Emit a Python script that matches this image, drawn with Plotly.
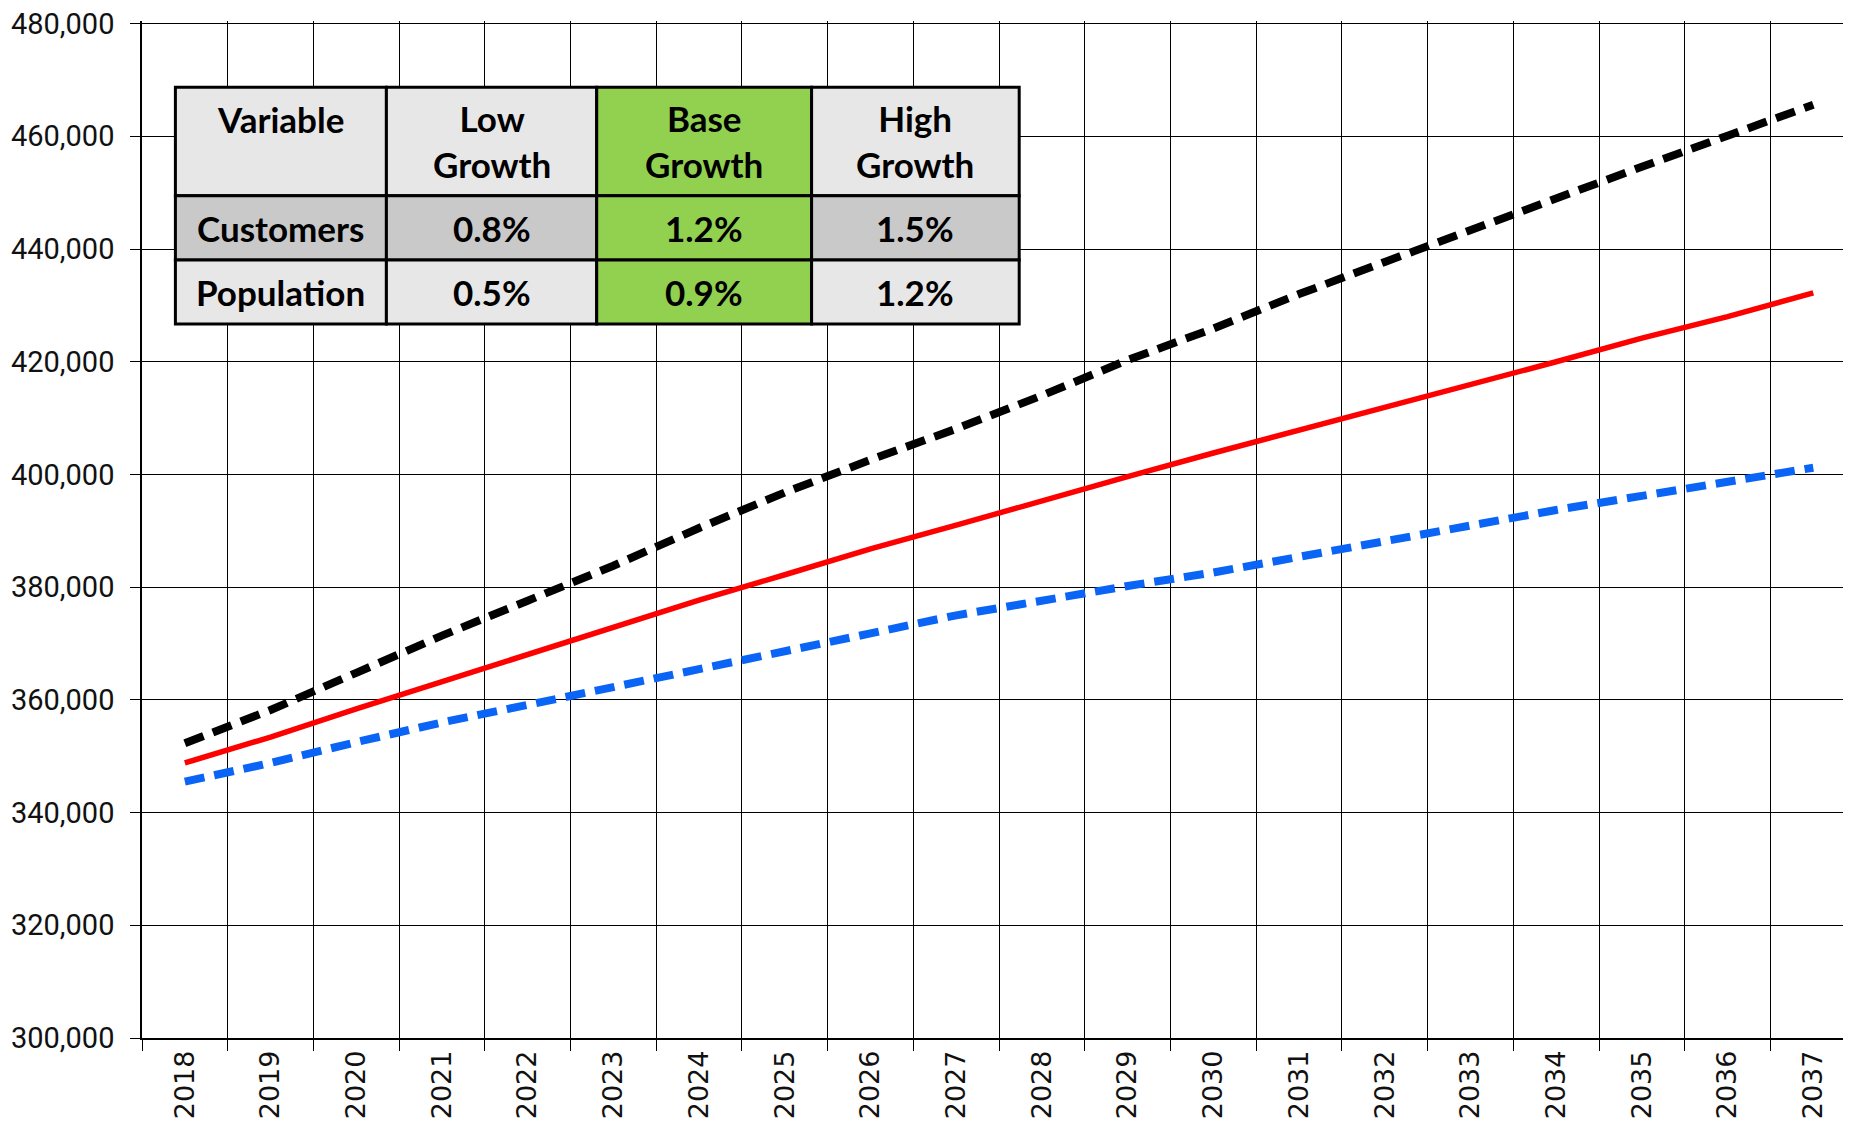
import plotly.graph_objects as go

years = [str(y) for y in range(2018, 2038)]

high_growth = [352300, 358200, 364800, 371400, 377600, 383800, 390500, 396800, 402600, 408100,
               414000, 420300, 425900, 432000, 437700, 443400, 449000, 454600, 460100, 465600]
base_growth = [348800, 353400, 358400, 363200, 368100, 373000, 377700, 382200, 386800, 391000,
               395400, 399600, 403800, 407800, 412000, 416000, 420000, 424200, 428000, 432200]
low_growth = [345500, 348800, 352500, 356000, 359100, 362200, 365600, 368700, 371800, 375000,
              377700, 380200, 382600, 385400, 388200, 391000, 393700, 396200, 398600, 401200]

y_ticks = [300000, 320000, 340000, 360000, 380000, 400000, 420000, 440000, 460000, 480000]

table_header = ["Variable", "Low<br>Growth", "Base<br>Growth", "High<br>Growth"]
table_variables = ["Customers", "Population"]
table_low = ["0.8%", "0.5%"]
table_base = ["1.2%", "0.9%"]
table_high = ["1.5%", "1.2%"]

GREEN = "#92D050"
LIGHT = "#E7E7E7"
DARK = "#C9C9C9"

# figure geometry (page has an 8px body margin)
FIG_W, FIG_H = 1843, 1121
M_L, M_R, M_T, M_B = 134, 0, 13, 91
PA_W = FIG_W - M_L - M_R
PA_H = FIG_H - M_T - M_B

fig = go.Figure()

fig.add_trace(go.Scatter(x=years, y=low_growth, mode="lines", name="Low Growth",
                         line=dict(color="#0A64F5", width=8, dash="20px,10px")))
fig.add_trace(go.Scatter(x=years, y=base_growth, mode="lines", name="Base Growth",
                         line=dict(color="#FF0000", width=5.5)))
fig.add_trace(go.Scatter(x=years, y=high_growth, mode="lines", name="High Growth",
                         line=dict(color="#000000", width=8, dash="20px,10px")))

# ---- overlay table (built from the table arrays) ----
tbl_left, tbl_top = 167.4, 79.3            # figure pixels
col_w = [211, 210.3, 214.9, 207.6]
row_h = [108.4, 64.3, 64.0]
columns = [table_variables, table_low, table_base, table_high]
header_fill = [LIGHT, LIGHT, GREEN, LIGHT]
body_fill = [[DARK, LIGHT], [DARK, LIGHT], [GREEN, GREEN], [DARK, LIGHT]]

def px_x(px):
    return (px - M_L) / PA_W

def px_y(py):
    return (FIG_H - M_B - py) / PA_H

shapes = []
annotations = []
tfont = dict(family="Lato", size=35, color="black", weight="bold")
x0 = tbl_left
for ci, w in enumerate(col_w):
    x1 = x0 + w
    y0 = tbl_top
    for ri, h in enumerate(row_h):
        y1 = y0 + h
        fill = header_fill[ci] if ri == 0 else body_fill[ci][ri - 1]
        shapes.append(dict(type="rect", xref="paper", yref="paper", layer="above",
                           x0=px_x(x0), x1=px_x(x1), y0=px_y(y1), y1=px_y(y0),
                           fillcolor=fill, line=dict(color="black", width=3)))
        if ri == 0:
            txt = table_header[ci]
            nlines = txt.count("<br>") + 1
            ty = y0 + 31.4 + (nlines - 1) * 44.3 / 2
        else:
            txt = columns[ci][ri - 1]
            ty = y0 + h / 2
        annotations.append(dict(text=txt, xref="paper", yref="paper",
                                x=px_x((x0 + x1) / 2), y=px_y(ty),
                                xanchor="center", yanchor="middle", align="center",
                                showarrow=False, font=tfont))
        y0 = y1
    x0 = x1

fig.update_layout(
    width=FIG_W, height=FIG_H,
    margin=dict(l=M_L, r=M_R, t=M_T, b=M_B, pad=0),
    plot_bgcolor="white", paper_bgcolor="white",
    showlegend=False,
    shapes=shapes,
    annotations=annotations,
    xaxis=dict(
        type="category",
        range=[-0.5, 19.44],
        tickson="boundaries",
        ticks="outside", ticklen=11, tickcolor="black", tickwidth=1.3,
        showgrid=True, gridcolor="black", gridwidth=1.3,
        showline=True, linecolor="black", linewidth=1.5,
        tickangle=-90,
        tickfont=dict(family="DejaVu Sans", size=27, color="#111111"),
    ),
    yaxis=dict(
        range=[300000, 480460],
        tickmode="array", tickvals=y_ticks,
        tickformat=",",
        ticklabeloverflow="allow",
        ticks="outside", ticklen=10, tickcolor="black", tickwidth=1.3,
        showgrid=True, gridcolor="black", gridwidth=1.3,
        showline=True, linecolor="black", linewidth=1.5,
        zeroline=False,
        ticklabelstandoff=10,
        tickfont=dict(family="Roboto", size=29, color="#111111"),
    ),
)

fig.write_html("out.html")
